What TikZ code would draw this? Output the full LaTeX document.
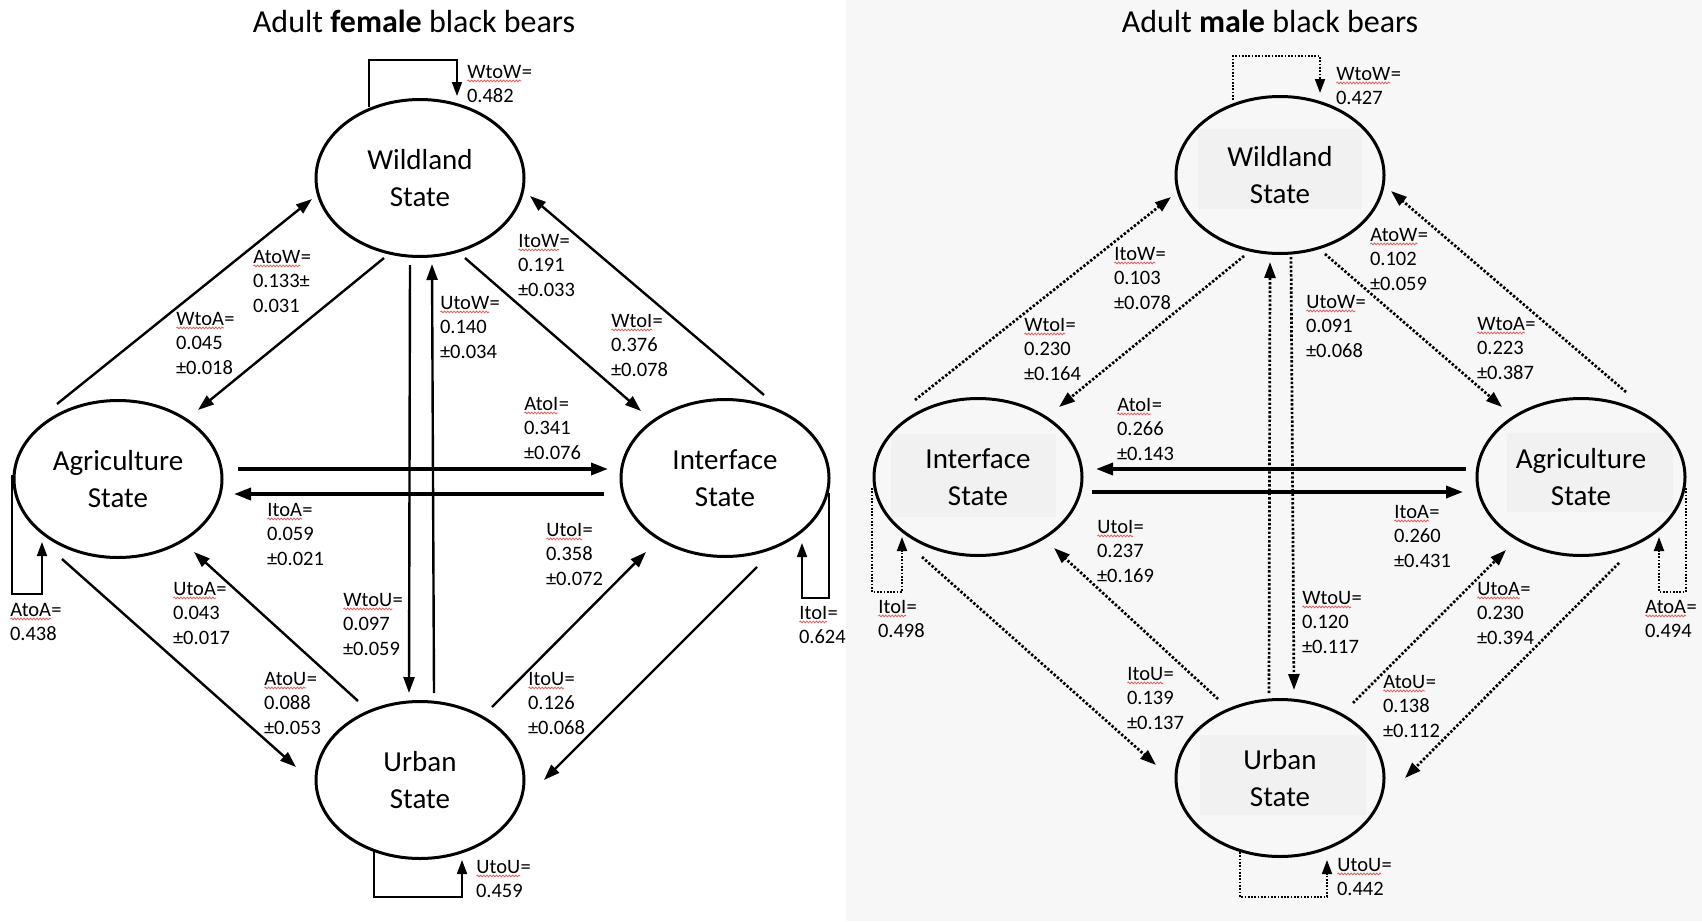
\documentclass[tikz,border=0pt]{standalone}
\usepackage{fontspec}
\setmainfont{Carlito}
\usetikzlibrary{arrows.meta,decorations.pathmorphing,shapes.geometric}
\definecolor{bgR}{HTML}{F7F7F7}
\definecolor{tbox}{HTML}{F1F1F1}
\definecolor{squig}{HTML}{E06060}
\newcommand\sqw[1]{\tikz[baseline=(sq.base)]{\node[inner sep=0pt,outer sep=0pt,anchor=base,draw=none,fill=none](sq){#1};\draw[squig,line width=0.8pt,decorate,decoration={snake,amplitude=0.9pt,segment length=3.2pt}] ([yshift=-2.8pt]sq.base west) -- ([yshift=-2.8pt]sq.base east);}}
\tikzset{
 st/.style={ellipse, draw, line width=3pt, minimum width=208pt, minimum height=157pt, inner sep=0pt, outer sep=0pt, align=center, font=\fontsize{29}{37}\selectfont},
 lbl/.style={anchor=north west, inner sep=0pt, outer sep=0pt, align=left, font=\fontsize{20.5}{24.5}\selectfont},
 conn/.style={line width=2.4pt, -{Triangle[length=16pt,width=11pt]}},
 hconn/.style={line width=3.4pt, -{Triangle[length=17pt,width=12pt]}},
 selfl/.style={line width=1.8pt, -{Triangle[length=14pt,width=10pt]}},
 dots/.style={line width=2.7pt, dash pattern=on 2.4pt off 1.9pt},
 fdots/.style={line width=1.9pt, dash pattern=on 1.7pt off 1.6pt},
 ttl/.style={anchor=base, inner sep=0pt, font=\fontsize{32}{38}\selectfont}
}
\begin{document}
\begin{tikzpicture}[x=1pt,y=-1pt]
\useasboundingbox (0,0) rectangle (1702,921);
\fill[white] (0,0) rectangle (846,921);
\fill[bgR] (846,0) rectangle (1702,921);
% titles
\node[ttl] (t1) at (414,32) {Adult \textbf{female} black bears};
\node[ttl] (t2) at (1270,32) {Adult \textbf{male} black bears};
% ---------------- female panel ----------------
\node[st] (fW) at (420,178) {Wildland\\State};
\node[st] (fA) at (118,479) {Agriculture\\State};
\node[st] (fI) at (725,478) {Interface\\State};
\node[st] (fU) at (420,780) {Urban\\State};
% self loops
\draw[selfl] ([shift={(-51,-71)}]fW.center) -- ++(0,-47) -- ++(88,0) -- ([shift={(37,-82)}]fW.center);
\draw[selfl] ([shift={(-106,-4)}]fA.center) -- ++(0,119) -- ++(30,0) -- ([shift={(-76,63)}]fA.center);
\draw[selfl] ([shift={(104,15)}]fI.center) -- ++(0,105) -- ++(-27,0) -- ([shift={(77,65)}]fI.center);
\draw[selfl] ([shift={(-46,71)}]fU.center) -- ++(0,46) -- ++(88,0) -- ([shift={(42,80)}]fU.center);
% transitions
\draw[conn] ([shift={(-61,-75)}]fA.center) -- ([shift={(-108,21)}]fW.center);
\draw[conn] ([shift={(-36,80)}]fW.center) -- ([shift={(80,-69)}]fA.center);
\draw[conn] ([shift={(-10,87)}]fW.center) -- ([shift={(-11,-87)}]fU.center);
\draw[conn] ([shift={(14,-87)}]fU.center) -- ([shift={(12,86)}]fW.center);
\draw[conn] ([shift={(45,80)}]fW.center) -- ([shift={(-84,-67)}]fI.center);
\draw[conn] ([shift={(39,-83)}]fI.center) -- ([shift={(110,18)}]fW.center);
\draw[hconn] ([shift={(120,-10)}]fA.center) -- ([shift={(-117,-9)}]fI.center);
\draw[hconn] ([shift={(-121,16)}]fI.center) -- ([shift={(116,15)}]fA.center);
\draw[conn] ([shift={(-62,-79)}]fU.center) -- ([shift={(76,73)}]fA.center);
\draw[conn] ([shift={(-56,80)}]fA.center) -- ([shift={(-124,-13)}]fU.center);
\draw[conn] ([shift={(72,-73)}]fU.center) -- ([shift={(-79,74)}]fI.center);
\draw[conn] ([shift={(32,89)}]fI.center) -- ([shift={(124,0)}]fU.center);
% labels
\node[lbl] (fLWW) at (467,65) {\sqw{WtoW}=\\0.482};
\node[lbl] (fLAW) at (253,250) {\sqw{AtoW}=\\0.133±\\0.031};
\node[lbl] (fLWA) at (176,312) {\sqw{WtoA}=\\0.045\\±0.018};
\node[lbl] (fLUW) at (440,296) {\sqw{UtoW}=\\0.140\\±0.034};
\node[lbl] (fLIW) at (518,234) {\sqw{ItoW}=\\0.191\\±0.033};
\node[lbl] (fLWI) at (611,314) {\sqw{WtoI}=\\0.376\\±0.078};
\node[lbl] (fLAI) at (524,397) {\sqw{AtoI}=\\0.341\\±0.076};
\node[lbl] (fLIA) at (267,503) {\sqw{ItoA}=\\0.059\\±0.021};
\node[lbl] (fLUI) at (546,523) {\sqw{UtoI}=\\0.358\\±0.072};
\node[lbl] (fLUA) at (173,582) {\sqw{UtoA}=\\0.043\\±0.017};
\node[lbl] (fLWU) at (343,593) {\sqw{WtoU}=\\0.097\\±0.059};
\node[lbl] (fLAU) at (264,672) {\sqw{AtoU}=\\0.088\\±0.053};
\node[lbl] (fLIU) at (528,672) {\sqw{ItoU}=\\0.126\\±0.068};
\node[lbl] (fLAA) at (10,603) {\sqw{AtoA}=\\0.438};
\node[lbl] (fLII) at (799,606) {\sqw{ItoI}=\\0.624};
\node[lbl] (fLUU) at (476,860) {\sqw{UtoU}=\\0.459};
% ---------------- male panel ----------------
\fill[tbox] (1198,129) rectangle (1362,209);
\fill[tbox] (891,434) rectangle (1056,517);
\fill[tbox] (1507,433) rectangle (1673,512);
\fill[tbox] (1200,735) rectangle (1366,815);
\node[st] (mW) at (1280,175) {Wildland\\State};
\node[st] (mI) at (978,477) {Interface\\State};
\node[st] (mA) at (1581,477) {Agriculture\\State};
\node[st] (mU) at (1280,778) {Urban\\State};
% self loops
\draw[selfl,fdots] ([shift={(-47,-75)}]mW.center) -- ++(0,-44) -- ++(87,0) -- ([shift={(40,-82)}]mW.center);
\draw[selfl,fdots] ([shift={(-106,11)}]mI.center) -- ++(0,104) -- ++(30,0) -- ([shift={(-76,60)}]mI.center);
\draw[selfl,fdots] ([shift={(105,11)}]mA.center) -- ++(0,104) -- ++(-27,0) -- ([shift={(78,60)}]mA.center);
\draw[selfl,fdots] ([shift={(-40,74)}]mU.center) -- ++(0,45) -- ++(87,0) -- ([shift={(47,82)}]mU.center);
% transitions
\draw[conn,dots] ([shift={(-63,-77)}]mI.center) -- ([shift={(-109,22)}]mW.center);
\draw[conn,dots] ([shift={(-36,81)}]mW.center) -- ([shift={(81,-70)}]mI.center);
\draw[conn,dots] ([shift={(11,82)}]mW.center) -- ([shift={(14,-88)}]mU.center);
\draw[conn,dots] ([shift={(-11,-85)}]mU.center) -- ([shift={(-10,87)}]mW.center);
\draw[conn,dots] ([shift={(45,79)}]mW.center) -- ([shift={(-79,-70)}]mA.center);
\draw[conn,dots] ([shift={(45,-85)}]mA.center) -- ([shift={(111,16)}]mW.center);
\draw[hconn] ([shift={(-115,-8)}]mA.center) -- ([shift={(118,-8)}]mI.center);
\draw[hconn] ([shift={(114,15)}]mI.center) -- ([shift={(-118,15)}]mA.center);
\draw[conn,dots] ([shift={(-62,-79)}]mU.center) -- ([shift={(76,71)}]mI.center);
\draw[conn,dots] ([shift={(-56,80)}]mI.center) -- ([shift={(-124,-13)}]mU.center);
\draw[conn,dots] ([shift={(73,-75)}]mU.center) -- ([shift={(-75,73)}]mA.center);
\draw[conn,dots] ([shift={(38,86)}]mA.center) -- ([shift={(125,0)}]mU.center);
% labels
\node[lbl] (mLWW) at (1336,67) {\sqw{WtoW}=\\0.427};
\node[lbl] (mLIW) at (1114,247) {\sqw{ItoW}=\\0.103\\±0.078};
\node[lbl] (mLAW) at (1370,228) {\sqw{AtoW}=\\0.102\\±0.059};
\node[lbl] (mLWI) at (1024,318) {\sqw{WtoI}=\\0.230\\±0.164};
\node[lbl] (mLUW) at (1306,295) {\sqw{UtoW}=\\0.091\\±0.068};
\node[lbl] (mLWA) at (1477,317) {\sqw{WtoA}=\\0.223\\±0.387};
\node[lbl] (mLAI) at (1117,398) {\sqw{AtoI}=\\0.266\\±0.143};
\node[lbl] (mLUI) at (1097,520) {\sqw{UtoI}=\\0.237\\±0.169};
\node[lbl] (mLIA) at (1394,505) {\sqw{ItoA}=\\0.260\\±0.431};
\node[lbl] (mLII) at (878,600) {\sqw{ItoI}=\\0.498};
\node[lbl] (mLWU) at (1302,591) {\sqw{WtoU}=\\0.120\\±0.117};
\node[lbl] (mLUA) at (1477,582) {\sqw{UtoA}=\\0.230\\±0.394};
\node[lbl] (mLAA) at (1645,600) {\sqw{AtoA}=\\0.494};
\node[lbl] (mLIU) at (1127,667) {\sqw{ItoU}=\\0.139\\±0.137};
\node[lbl] (mLAU) at (1383,675) {\sqw{AtoU}=\\0.138\\±0.112};
\node[lbl] (mLUU) at (1337,858) {\sqw{UtoU}=\\0.442};
\end{tikzpicture}
\end{document}
